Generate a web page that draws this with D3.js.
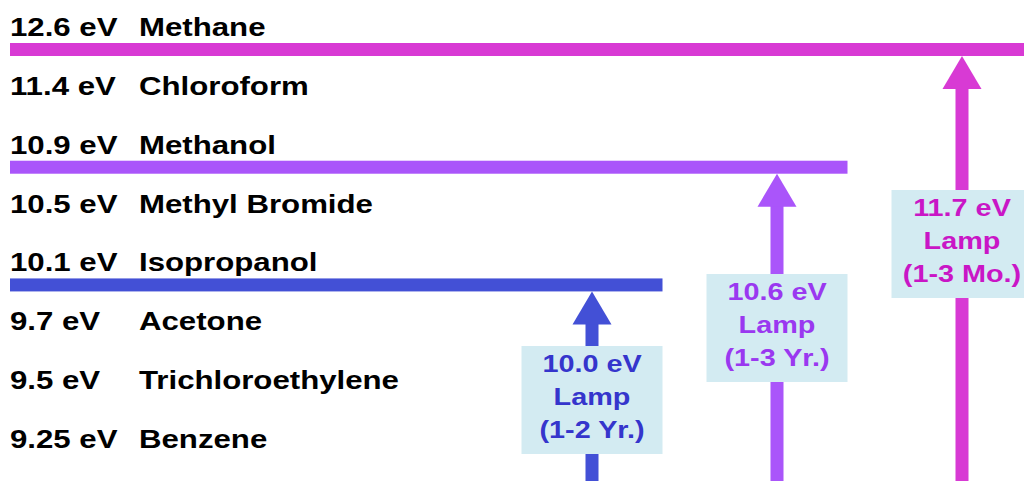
<!DOCTYPE html>
<html>
  <head>
    <meta http-equiv="Content-Type" content="text/html;charset=utf-8">
    <script src="https://d3js.org/d3.v7.min.js"></script>
    <style>
      body { margin: 0; background: #fff; }
      text { font-family: "Liberation Sans", Arial, sans-serif; font-weight: bold; }
    </style>
  </head>
  <body>
    <svg id="chart" width="1024" height="481"></svg>
    <script type="text/javascript">

// compounds and their ionization potentials, top to bottom
var compounds = ["Methane", "Chloroform", "Methanol", "Methyl Bromide",
                 "Isopropanol", "Acetone", "Trichloroethylene", "Benzene"];
var energies = ["12.6 eV", "11.4 eV", "10.9 eV", "10.5 eV",
                "10.1 eV", "9.7 eV", "9.5 eV", "9.25 eV"];

// lamps
var lampNames = ["10.0 eV", "10.6 eV", "11.7 eV"];
var lampLife = ["(1-2 Yr.)", "(1-3 Yr.)", "(1-3 Mo.)"];
var lampReach = ["Isopropanol", "Methanol", "Methane"];

var lampColor = ["#4350d6", "#aa55fa", "#d83ad4"];
var lampText = ["#3535cc", "#9a38f0", "#c916c6"];

var W = 1024, H = 481;
var stretch = 1.2;   // the original lettering is drawn wider than normal
var svg = d3.select("#chart");

var y = d3.scalePoint().domain(compounds).range([36, 448]);
var x = d3.scalePoint().domain(lampNames).range([592, 962]);

// rows of text
var rows = svg.append("g").selectAll("g").data(compounds).join("g");
rows.append("text")
    .attr("transform", d => "translate(10," + y(d) + ") scale(" + stretch + ",1)")
    .attr("font-size", 26)
    .text((d, i) => energies[i]);
rows.append("text")
    .attr("transform", d => "translate(139," + y(d) + ") scale(" + stretch + ",1)")
    .attr("font-size", 26)
    .text(d => d);

var barH = 13, boxW = 141, boxH = 108;
var boxTops = [346, 274, 190];

var lamps = svg.append("g").selectAll("g").data(lampNames).join("g");
var barTop = (d, i) => y(lampReach[i]) + 7;

// horizontal energy bars
lamps.append("rect")
    .attr("x", 10)
    .attr("y", barTop)
    .attr("width", d => Math.min(W, x(d) + boxW / 2) - 10)
    .attr("height", barH)
    .attr("fill", (d, i) => lampColor[i]);

// arrow shafts
lamps.append("rect")
    .attr("x", d => x(d) - 6.5)
    .attr("y", (d, i) => barTop(d, i) + barH + 30)
    .attr("width", 13)
    .attr("height", (d, i) => H - (barTop(d, i) + barH + 30))
    .attr("fill", (d, i) => lampColor[i]);

// arrow heads
lamps.append("path")
    .attr("d", (d, i) => {
      var p = d3.path();
      var top = barTop(d, i) + barH;
      p.moveTo(x(d), top);
      p.lineTo(x(d) + 19.5, top + 33);
      p.lineTo(x(d) - 19.5, top + 33);
      p.closePath();
      return p.toString();
    })
    .attr("fill", (d, i) => lampColor[i]);

// label boxes
lamps.append("rect")
    .attr("x", d => x(d) - boxW / 2)
    .attr("y", (d, i) => boxTops[i])
    .attr("width", boxW)
    .attr("height", boxH)
    .attr("fill", "#d3ebf2");

lamps.each(function(d, i) {
  var g = d3.select(this);
  var lines = [d, "Lamp", lampLife[i]];
  g.selectAll("text.lbl").data(lines).join("text")
      .attr("class", "lbl")
      .attr("transform", (t, j) => "translate(" + x(d) + "," + (boxTops[i] + 26 + j * 33) +
            ") scale(" + stretch + ",1)")
      .attr("text-anchor", "middle")
      .attr("font-size", 24)
      .attr("fill", lampText[i])
      .text(t => t);
});

    </script>
  </body>
</html>
